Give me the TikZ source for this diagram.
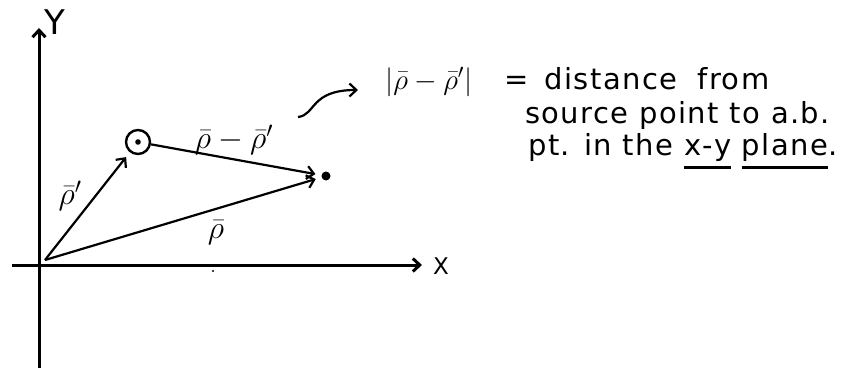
\documentclass[tikz,border=0pt]{standalone}
\usepackage{fix-cm}
\usepackage{amsmath,amssymb}
\usepackage{fontspec}
\setmainfont{DejaVu Sans}[LetterSpace=5]
\usepackage{tikz}
\usetikzlibrary{arrows.meta, positioning, calc}

\newcommand{\handul}[1]{\setbox0\hbox{#1}\rlap{\rule[-14pt]{\wd0}{2.6pt}}\box0\relax}

\tikzset{
  axis/.style={line width=3pt},
  vec/.style={line width=2.2pt},
  lab/.style={font=\fontsize{32}{36}\selectfont, inner sep=0pt},
  note/.style={font=\fontsize{29}{34}\selectfont, inner sep=0pt, anchor=base west}
}

\begin{document}
\begin{tikzpicture}[x=1pt, y=-1pt, >={Straight Barb[length=7pt, width=13pt]}]
  \useasboundingbox (0,0) rectangle (851,369);

  % --- Assi ---
  \coordinate (ybot) at (39,368);
  \coordinate (ytop) at (39,28);
  \coordinate (xleft) at (12,265);
  \coordinate (xright) at (422,265);
  \draw[->, axis] (ybot) -- (ytop);
  \draw[->, axis] (xleft) -- (xright);
  \node[font=\fontsize{34}{38}\selectfont, inner sep=0pt] (ylab) at (55,22) {Y};
  \node[font=\fontsize{23}{26}\selectfont, inner sep=0pt] (xlab) at (441,266) {X};

  % --- Origine, sorgente e punto di campo ---
  \coordinate (orig) at (45,260);
  \node[circle, draw, line width=2.4pt, minimum size=24pt, inner sep=0pt] (src) at (138,142) {};
  \fill (src.center) circle (2.8);
  \node[circle, fill, minimum size=9pt, inner sep=0pt] (fld) at (326,176) {};
  \fill (213,271) circle (1.2);

  % --- Vettori ---
  \draw[->, vec, shorten >=6pt] (orig) -- (src);
  \draw[->, vec, shorten >=6pt] (orig) -- (fld);
  \draw[->, vec, shorten >=6pt] (src) -- (fld);
  \node[lab] (lrp) at (70,196) {$\bar{\rho}'$};
  \node[lab] (lr) at (216,233) {$\bar{\rho}$};
  \node[lab] (ldiff) at (234,140) {$\bar{\rho}-\bar{\rho}'$};

  % --- Nota ---
  \coordinate (cstart) at (298,117);
  \coordinate (cend) at (358,90);
  \draw[->, line width=2.2pt] (cstart) .. controls (316,115) and (310,90) .. (cend);
  \node[note] (l1) at (385,89) {$|\bar{\rho}-\bar{\rho}'|$\hspace{32pt}=\hspace{16pt}distance\hspace{20pt}from};
  \node[note] (l2) at (525,123) {source point to a.b.};
  \node[note] (l3) at (528,155) {pt. in the \handul{x-y} \handul{plane}.};

\end{tikzpicture}
\end{document}
